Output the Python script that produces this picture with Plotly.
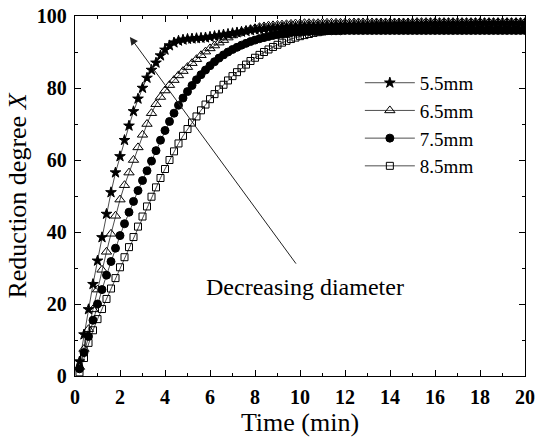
import plotly.graph_objects as go

time_min = [round(0.2 * (i + 1), 1) for i in range(100)]

x_55 = [4, 11.5, 18.5, 25.5, 32, 38.5, 45, 51, 56.5, 61,
        65.5, 69.5, 73.5, 77, 80, 82.8, 85, 87, 89, 90.6,
        91.8, 92.6, 93.1, 93.4, 93.6, 93.7, 93.8, 93.9, 94.0, 94.2,
        94.4, 94.6, 94.8, 95.0, 95.2, 95.4, 95.6, 95.8, 96.0, 96.2,
        96.3, 96.4, 96.5, 96.6, 96.7, 96.8, 96.9, 97.0, 97.0, 97.1,
        97.1, 97.2, 97.2, 97.2, 97.3, 97.3, 97.3, 97.4, 97.4, 97.4,
        97.4, 97.5, 97.5, 97.5, 97.5, 97.5, 97.6, 97.6, 97.6, 97.6,
        97.6, 97.7, 97.7, 97.7, 97.7, 97.7, 97.7, 97.7, 97.8, 97.8,
        97.8, 97.8, 97.8, 97.8, 97.8, 97.8, 97.8, 97.8, 97.9, 97.9,
        97.9, 97.9, 97.9, 97.9, 97.9, 97.9, 97.9, 97.9, 97.9, 97.9]

x_65 = [2.5, 7.5, 13, 18.5, 24, 29.5, 34.5, 39.5, 44.5, 49,
        53, 56.5, 60, 63.5, 67, 70, 73, 75.5, 77.5, 79.3,
        80.8, 82.2, 83.5, 84.7, 85.8, 86.9, 88, 89.1, 90.1, 91.0,
        91.8, 92.6, 93.3, 94.0, 94.6, 95.1, 95.6, 96.0, 96.3, 96.6,
        96.9, 97.1, 97.3, 97.4, 97.5, 97.6, 97.7, 97.8, 97.9, 97.9,
        98.0, 98.0, 98.0, 98.0, 98.1, 98.1, 98.1, 98.1, 98.1, 98.1,
        98.1, 98.2, 98.2, 98.2, 98.2, 98.2, 98.2, 98.2, 98.2, 98.2,
        98.2, 98.2, 98.2, 98.2, 98.2, 98.3, 98.3, 98.3, 98.3, 98.3,
        98.3, 98.3, 98.3, 98.3, 98.3, 98.3, 98.3, 98.3, 98.3, 98.3,
        98.3, 98.3, 98.3, 98.3, 98.3, 98.3, 98.3, 98.3, 98.3, 98.3]

x_75 = [2, 6.5, 11, 15.5, 20, 24, 28, 31.8, 35.5, 39,
        42.3, 45.5, 48.5, 51.5, 54.3, 57, 59.7, 62.6, 65.5, 68.2,
        70.7, 73, 75.2, 77.2, 79.0, 80.7, 82.3, 83.7, 85.0, 86.2,
        87.3, 88.3, 89.2, 90.0, 90.7, 91.3, 91.9, 92.4, 92.9, 93.3,
        93.7, 94.0, 94.3, 94.6, 94.8, 95.0, 95.2, 95.4, 95.5, 95.6,
        95.7, 95.7, 95.8, 95.8, 95.8, 95.9, 95.9, 95.9, 95.9, 96.0,
        96.0, 96.0, 96.0, 96.0, 96.0, 96.0, 96.0, 96.0, 96.0, 96.0,
        96.0, 96.0, 96.0, 96.0, 96.0, 96.0, 96.0, 96.0, 96.0, 96.0,
        96.0, 96.0, 96.0, 96.0, 96.0, 96.0, 96.0, 96.0, 96.0, 96.0,
        96.0, 96.0, 96.0, 96.0, 96.0, 96.0, 96.0, 96.0, 96.0, 96.0]

x_85 = [1, 5, 9.2, 12.7, 15.8, 18.6, 21.4, 24.3, 27.2, 30.2,
        33, 35.8, 38.6, 41.5, 44.3, 47.1, 49.8, 52.4, 55, 57.5,
        60, 62.4, 64.6, 66.7, 68.6, 70.4, 72.1, 73.8, 75.4, 76.9,
        78.3, 79.6, 80.9, 82.1, 83.3, 84.4, 85.5, 86.5, 87.5, 88.4,
        89.2, 90.0, 90.7, 91.4, 92.0, 92.6, 93.1, 93.6, 94.0, 94.4,
        94.7, 95.0, 95.3, 95.5, 95.7, 95.9, 96.0, 96.1, 96.2, 96.3,
        96.4, 96.5, 96.6, 96.6, 96.7, 96.7, 96.8, 96.8, 96.9, 96.9,
        97.0, 97.0, 97.0, 97.0, 97.0, 97.0, 97.0, 97.0, 97.0, 97.0,
        97.0, 97.0, 97.0, 97.0, 97.0, 97.0, 97.0, 97.0, 97.0, 97.0,
        97.0, 97.0, 97.0, 97.0, 97.0, 97.0, 97.0, 97.0, 97.0, 97.0]

series_names = ["5.5mm", "6.5mm", "7.5mm", "8.5mm"]
series_values = [x_55, x_65, x_75, x_85]
symbols = ["star", "triangle-up-open", "circle", "square-open"]
sizes = [8, 9, 8, 7]

x_ticks = [0, 2, 4, 6, 8, 10, 12, 14, 16, 18, 20]
y_ticks = [0, 20, 40, 60, 80, 100]

FONT = "Liberation Serif"

fig = go.Figure()
for name, vals, sym, sz in zip(series_names, series_values, symbols, sizes):
    fig.add_trace(go.Scatter(
        x=time_min, y=vals, name=name, mode="lines+markers",
        line=dict(color="black", width=0.7),
        marker=dict(symbol=sym, size=sz, color="black",
                    line=dict(color="black", width=1)),
    ))

fig.add_annotation(x=2.44, y=94.2, ax=9.87, ay=30.8, xref="x", yref="y",
                   axref="x", ayref="y", text="", showarrow=True,
                   arrowhead=2, arrowsize=1.6, arrowwidth=1, arrowcolor="#222")
fig.add_annotation(x=10.2, y=24.6, xref="x", yref="y", text="Decreasing diameter",
                   showarrow=False, font=dict(family=FONT, size=24, color="black"))

axis_common = dict(
    showline=True, linecolor="black", linewidth=1.3, mirror="ticks",
    ticks="inside", ticklen=6, tickwidth=1.2, tickcolor="black",
    showgrid=False, zeroline=False, automargin=False,
    ticklabeloverflow="allow", ticklabelstandoff=3,
    tickfont=dict(family=FONT, size=20, color="black", weight="bold"),
)

fig.update_xaxes(range=[0, 20], tickvals=x_ticks, **axis_common,
                 minor=dict(ticks="inside", dtick=1, ticklen=3, tickcolor="black"),
                 title=dict(text="Time (min)", font=dict(family=FONT, size=26, color="black"), standoff=4))
fig.update_yaxes(range=[0, 100], tickvals=y_ticks, **axis_common,
                 minor=dict(ticks="inside", dtick=10, ticklen=3, tickcolor="black"),
                 title=dict(text="Reduction degree <i>X</i>", font=dict(family=FONT, size=26, color="black"), standoff=2))

fig.update_layout(
    width=538, height=443,
    margin=dict(l=75, r=13, t=16, b=67),
    paper_bgcolor="white", plot_bgcolor="white",
    legend=dict(x=0.633, y=0.867, xanchor="left", yanchor="top",
                font=dict(family=FONT, size=19, color="black"),
                bgcolor="rgba(0,0,0,0)", itemwidth=50, tracegroupgap=0),
)

# remove the browser's default 8px page margin so the figure fills the window
fig.write_html("out.html", config={"displayModeBar": False},
               post_script="document.body.style.margin='0';")
